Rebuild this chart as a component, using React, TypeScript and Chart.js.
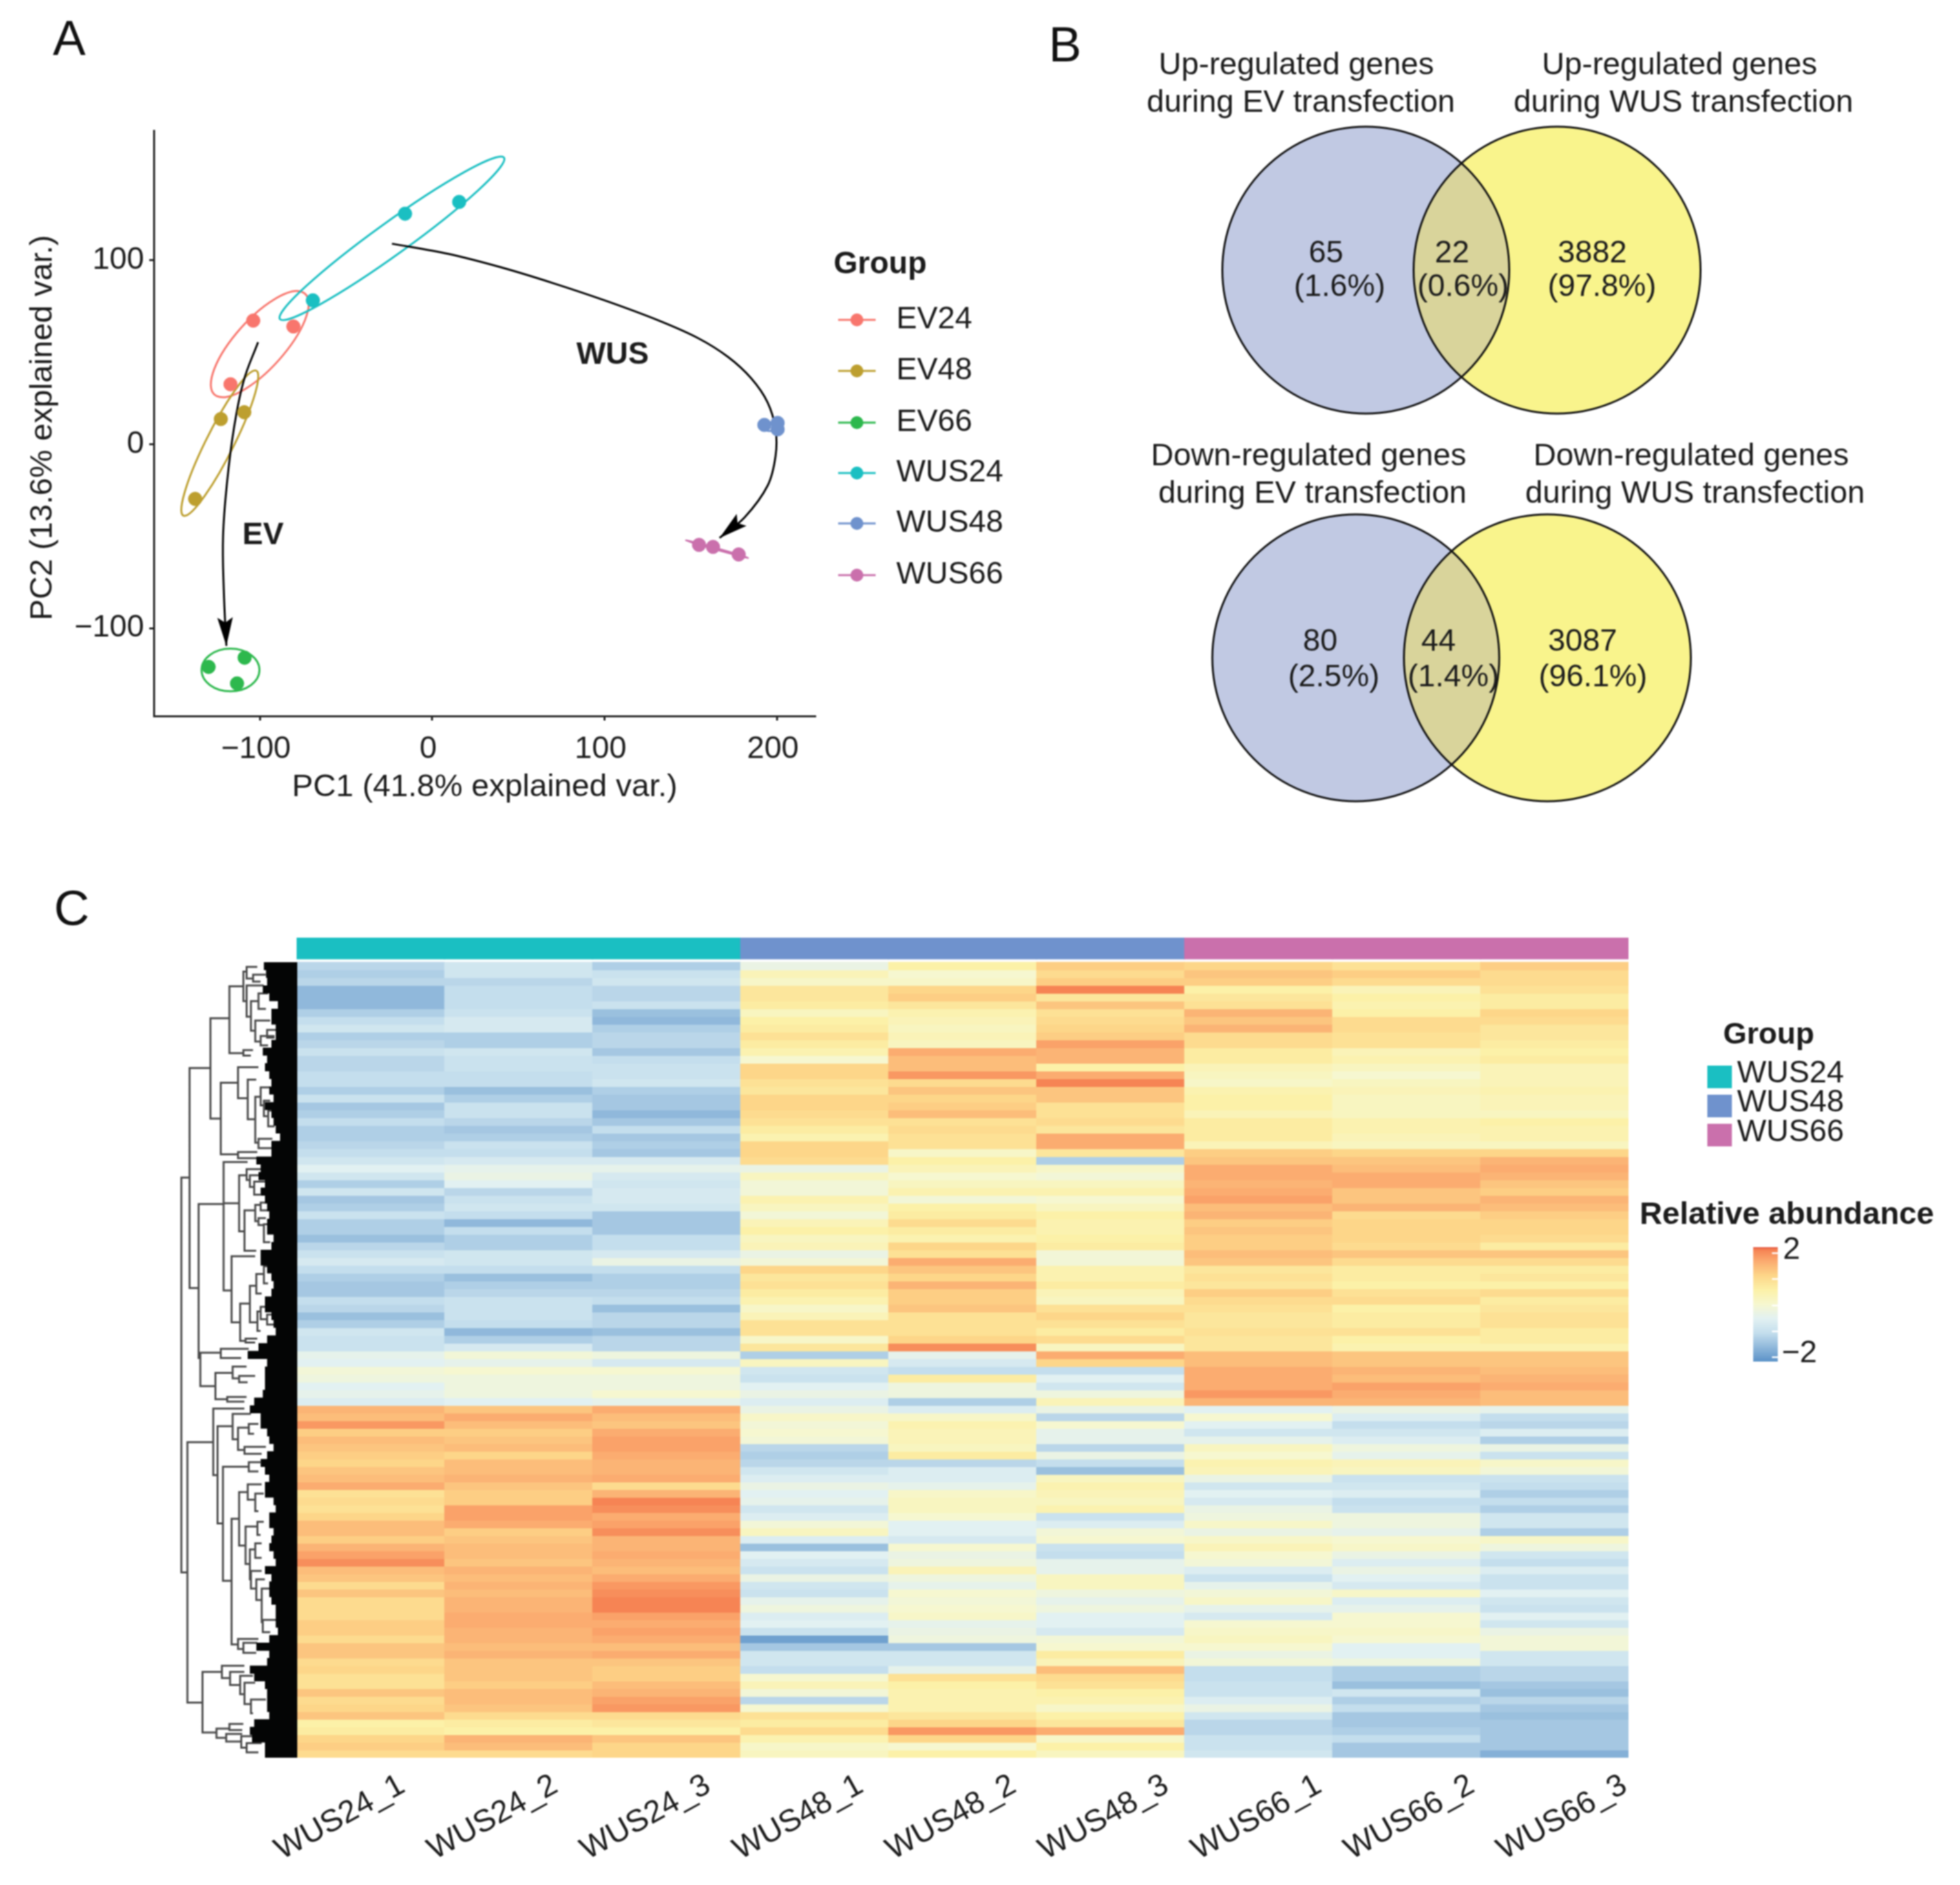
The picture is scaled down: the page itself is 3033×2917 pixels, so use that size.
import React, { useEffect, useRef } from "react";
import { Chart, registerables } from "chart.js";

Chart.register(...registerables);

const FONT = '"Liberation Sans", Arial, sans-serif';
const INK = "#1c1c1c";

/* ---------- Panel A data ---------- */
const groupNames = ["EV24", "EV48", "EV66", "WUS24", "WUS48", "WUS66"];
const groupColors = ["#f8766d", "#bd9f2f", "#2db84d", "#1abfc2", "#6f92cd", "#ca70ac"];
const pcaEV24 = [{ x: -103.8, y: 67.2 }, { x: -80.5, y: 64 }, { x: -117, y: 32.6 }];
const pcaEV48 = [{ x: -122.6, y: 13.7 }, { x: -109, y: 17.4 }, { x: -137.5, y: -29.7 }];
const pcaEV66 = [{ x: -108.8, y: -116 }, { x: -129.7, y: -121 }, { x: -113.2, y: -130 }];
const pcaWUS24 = [{ x: -15.7, y: 125.3 }, { x: 15.7, y: 131.7 }, { x: -69.2, y: 78.2 }];
const pcaWUS48 = [{ x: 192.8, y: 10.5 }, { x: 200.5, y: 11.6 }, { x: 200.5, y: 8.1 }];
const pcaWUS66 = [{ x: 154.9, y: -54.7 }, { x: 163, y: -55.8 }, { x: 177.9, y: -59.9 }];
const pcaGroups = [pcaEV24, pcaEV48, pcaEV66, pcaWUS24, pcaWUS48, pcaWUS66];
// centre, and two conjugate semi-axes of each confidence ellipse, in PC units
const ellipses = [
  { c: [-100, 54.4], u: [25, 28.2], v: [-13.5, 6] },
  { c: [-123.2, 0.6], u: [20.7, 39.5], v: [-8.4, 0.9] },
  { c: [-117, -122.7], u: [16.8, 0], v: [0, -11.6] },
  { c: [-23.3, 111.9], u: [65, 43.9], v: [-5.7, 7] },
  { c: [196.6, 9.6], u: [4.6, 0.6], v: [0, -2.3] },
  { c: [165.3, -57], u: [18, -4.7], v: [0, 0.4] },
];
const arrowEV = [
  { x: -101, y: 55.5 }, { x: -109.4, y: 34.3 }, { x: -115.1, y: 8.1 }, { x: -119, y: -20.9 },
  { x: -121.3, y: -50 }, { x: -120.9, y: -79 }, { x: -119.4, y: -109.6 },
];
const arrowWUS = [
  { x: -23.3, y: 109 }, { x: 9.2, y: 103.5 }, { x: 39.8, y: 96.2 }, { x: 70.4, y: 87.5 }, { x: 101, y: 77.9 },
  { x: 131.6, y: 67.2 }, { x: 154.5, y: 57.6 }, { x: 171.8, y: 47.4 }, { x: 185.2, y: 35.8 }, { x: 194.7, y: 22.7 },
  { x: 199.3, y: 8.1 }, { x: 199.3, y: -6.4 }, { x: 194.7, y: -22.5 }, { x: 181.3, y: -39.8 }, { x: 166.8, y: -50.9 },
];
const pcaTicksX = [-100, 0, 100, 200];
const pcaTicksY = [-100, 0, 100];

/* ---------- Panel B data ---------- */
const vennCounts = ["65", "22", "3882", "80", "44", "3087"];
const vennPercents = ["(1.6%)", "(0.6%)", "(97.8%)", "(2.5%)", "(1.4%)", "(96.1%)"];
const vennTitleLines = [
  "Up-regulated genes", "during EV transfection", "Up-regulated genes", "during WUS transfection",
  "Down-regulated genes", "during EV transfection", "Down-regulated genes", "during WUS transfection",
];

/* ---------- Panel C data ---------- */
const sampleNames = ["WUS24_1", "WUS24_2", "WUS24_3", "WUS48_1", "WUS48_2", "WUS48_3", "WUS66_1", "WUS66_2", "WUS66_3"];
const sampleGroupColors = ["#1abfc2", "#1abfc2", "#1abfc2", "#6f92cd", "#6f92cd", "#6f92cd", "#ca70ac", "#ca70ac", "#ca70ac"];
const heatLegendNames = ["WUS24", "WUS48", "WUS66"];
const heatLegendColors = ["#1abfc2", "#6f92cd", "#ca70ac"];

const heatWUS24_1 = [
  -1.1,-1.2,-1.1,-1.5,-1.5,-1.5,-1.2,-1.0,-.8,-1.2, -1.1,-.9,-1.1,-1.1,-1.0,-1.0,-1.2,-.9,-1.3,-1.2,
  -1.0,-1.2,-1.2,-1.1,-1.0,-.8,-.5,-.8,-1.2,-.8, -1.3,-1.2,-.9,-1.2,-1.2,-1.4,-1.1,-.9,-.7,-1.0,
  -1.2,-1.3,-1.3,-1.0,-1.1,-1.4,-1.2,-.8,-.9,-.9, -.4,-.5,-.1,-.2,-.5,-.4,-.6,
  1.4,1.3,1.7,1.1,1.3,1.2,1.1,1.0,1.2,1.3, 1.5,.8,.9,.8,1.0,1.3,1.3,1.1,1.4,1.6,
  1.8,1.3,1.2,.9,1.2,.9,.9,.9,1.1,1.1, .9,1.2,1.2,.9,1.0,.8,.8,1.2,.9,1.0, 1.2,.5,.6,1.0,1.1,.9,
];
const heatWUS24_2 = [
  -.8,-.8,-1.1,-1.0,-1.0,-1.0,-.9,-.7,-.7,-1.2, -1.2,-.8,-.9,-.9,-1.0,-1.0,-1.4,-1.2,-.9,-.9,
  -1.1,-1.3,-1.2,-.9,-1.0,-.7,-.4,-.3,-.5,-1.1, -.9,-.8,-1.0,-1.5,-1.0,-1.2,-1.2,-.8,-.8,-1.0,
  -1.4,-1.2,-1.1,-.9,-.9,-.9,-1.0,-1.5,-1.2,-.7, -.1,-.4,0,-.2,-.2,-.2,-.5,
  1.2,1.5,1.3,1.1,1.2,1.3,1.0,1.3,1.3,1.4, 1.2,1.1,1.1,1.6,1.6,1.5,1.1,1.2,1.3,1.3,
  1.2,1.4,1.3,1.4,1.3,1.4,1.4,1.5,1.5,1.4, 1.4,1.3,1.4,1.2,1.2,1.2,1.1,1.3,1.3,1.2, .9,.6,.5,1.4,1.3,.9,
];
const heatWUS24_3 = [
  -1.2,-.9,-.8,-1.1,-1.1,-.9,-1.4,-1.5,-1.2,-1.1, -1.1,-1.3,-1.0,-.9,-.9,-.8,-1.2,-1.3,-1.3,-1.5,
  -1.3,-1.0,-1.3,-1.2,-1.3,-.7,-.4,-.7,-.8,-.7, -.7,-.8,-1.3,-1.3,-1.3,-1.0,-1.0,-.7,-.3,-1.0,
  -1.2,-1.2,-1.1,-1.0,-1.4,-1.1,-1.1,-1.4,-1.1,-1.1, -.2,-.7,0,-.2,-.2,0,-.4,
  1.5,1.3,1.2,1.5,1.6,1.6,1.5,1.4,1.4,1.5, .9,1.4,1.9,1.8,1.5,1.6,1.8,1.4,1.4,1.5,
  1.4,1.3,1.5,1.7,1.8,1.9,1.9,1.6,1.5,1.6, 1.5,1.3,1.5,1.2,1.1,1.1,1.3,1.4,1.6,1.7, .9,.7,.5,1.2,1.0,1.0,
];
const heatWUS48_1 = [
  -.3,.3,.1,.7,.7,.6,.2,.5,.6,.8, .6,.4,0,1.0,1.0,.8,.7,1.0,1.0,.9, .8,.6,.4,1.0,1.0,.9,-.3,.2,-.1,
  -.1,.4,.2,-.1,.3,.5,.2,.3,-.3,-.1, 1.0,.7,.8,.6,.4,.1,.3,.8,.8,.1, .7,-1.2,.2,-.8,-.9,-.5,-.3,-.6,
  -.3,.1,-.1,0,-.1,-1.1,-1.2,-1.1,-.8,-.6, -.3,-.5,-.4,-.8,-.6,-.1,.2,-.6,-1.4,-.5, -.7,-.9,-.3,
  -.8,-.9,-.4,-.2,-.6,-.5,-.9,-1.8,-1.3,-.8, -.8,-1.0,0,.3,-.1,-1.1,0,.8,.6,.9, .4,.1,.2,
];
const heatWUS48_2 = [
  .5,0,.1,1.0,1.1,.7,.4,.3,.2,.3, .2,1.5,1.3,1.3,1.7,.9,1.2,1.0,1.1,1.3, .8,.9,.8,.8,.1,.5,.3,0,.2,
  .4,-.1,.5,.6,.9,.6,.4,1.0,.8,1.5, 1.2,1.0,1.4,1.1,1.1,1.2,.8,.8,.8,1.0, 1.8,-.4,-.7,-1.0,.6,-.2,-.2,-1.2,
  -.6,.1,.4,.3,.3,.2,.6,-1.1,-.6,-.6, -.4,.1,.2,.2,0,-.5,-.5,-.7,0,-.3, -.2,.3,-.2,
  -.4,0,-.1,0,.1,-.4,-.3,-.2,-1.3,-.8, -.8,-.4,.8,.5,.4,.4,.4,.7,1.0,1.7, 1.0,0,.5,
];
const heatWUS48_3 = [
  1.1,.9,1.1,1.9,.7,1.2,.8,.9,1.0,1.1, 1.6,1.4,1.4,.5,1.5,1.9,1.2,1.2,.8,.8, .9,.7,1.5,1.5,.7,-1.2,.1,-.1,.2,
  .4,0,.2,.5,.4,.4,.5,.6,-.1,-.1, .4,.4,.6,.3,.2,.8,1.0,.8,.6,.9, .2,1.5,1.0,-1.0,-.5,-.8,-.2,.3,
  -.3,-1.1,0,-.4,-.4,-1.1,-.3,-1.0,-1.4,.2, .4,.3,.2,.4,-.9,-.6,-.1,0,-.9,-1.0, -.4,-.4,.2,
  .2,-.2,-.4,-.2,-.5,-.5,-.7,-.1,0,.6, .3,1.3,.9,.8,.5,.4,.1,.5,.7,1.5, .1,.5,.2,
];
const heatWUS66_1 = [
  1.0,1.2,1.1,.5,.7,.8,1.4,1.2,1.4,.9, .9,.6,.6,.3,.2,.1,.4,.5,.5,.3, .6,.6,.6,.3,1.1,1.2,1.5,1.5,1.4,
  1.5,1.6,1.3,1.4,1.1,1.2,1.1,1.1,1.3,1.2, .7,.8,.7,1.1,.9,.8,.7,.7,.8,.7, .7,1.3,1.3,1.5,1.5,1.5,1.7,1.4,
  -.5,0,-.5,-.8,-.4,.2,0,.4,.3,-.3, -.8,-.5,-.7,-.3,-.2,.1,-.3,.1,.3,0, -.1,-.6,-.9,
  -.4,-.1,.1,-.4,-.7,0,.1,.2,0,-.3, -.1,-1.0,-1.0,-.9,-.9,-.6,-.3,-.8,-1.1,-1.1, -.9,-.9,-.8,
];
const heatWUS66_2 = [
  .8,1.1,.9,.3,.5,.4,.5,.9,.9,.8, .8,.3,.4,.2,0,.2,.3,.2,.2,.2, .4,.4,.3,.2,1.0,1.2,1.3,1.5,1.5,
  1.2,1.2,1.4,.9,1.0,1.0,1.0,.9,1.2,.9, .6,.6,.5,.8,.9,.5,.6,.6,.8,.5, .4,1.2,1.2,1.4,1.3,1.6,1.5,1.4,
  -.3,-.6,-1.0,-.8,-.6,-.2,-.4,.3,.2,-.9, -.8,-.6,-1.0,-.9,-.2,-.2,-.4,0,.1,-.3, -.6,-.3,-.5,
  -.7,.1,-.6,-.4,0,0,.1,0,-.5,-.5, -.2,-1.2,-1.2,-1.4,-.8,-1.2,-1.0,-1.3,-1.3,-1.2, -1.0,-1.3,-1.3,
];
const heatWUS66_3 = [
  1.1,.9,.9,.8,.6,.6,1.0,.9,.7,.7, .6,.5,.6,.3,.3,.3,.4,.3,.3,.2, .5,.4,.4,.2,1.0,1.4,1.5,1.4,1.2,
  1.1,1.4,1.3,1.1,1.0,1.0,.9,.6,1.2,.9, .6,.7,.5,.9,.6,.7,.8,.8,.6,.6, .4,1.2,1.2,1.3,1.4,1.5,1.3,1.3,
  -.4,-1.0,-1.1,-.6,-1.2,-.3,-.9,.1,-.1,-.9, -1.0,-1.2,-1.0,-1.2,-.8,-.8,-1.2,.1,-.2,-.8, -1.0,-.6,-.9,
  -.9,-.5,-.8,-.9,-.5,-.8,-.3,-.1,-.1,-.8, -.8,-1.1,-1.1,-1.3,-1.4,-1.1,-1.3,-1.4,-1.3,-1.3, -1.3,-1.3,-1.6,
];
const heatColumns = [heatWUS24_1, heatWUS24_2, heatWUS24_3, heatWUS48_1, heatWUS48_2, heatWUS48_3, heatWUS66_1, heatWUS66_2, heatWUS66_3];
const ROWS = 103;
const UPPER_ROWS = 57;

// leftmost reach of the leaf fringe per row
const leafEdge = [
  415,425,430,410,440,480,450,450,470,470,450,410,430,420,440,450,440,460,420,450,460,470,490,450,450,380,400,390,420,400,
  420,430,440,430,430,460,450,400,400,430,450,460,450,420,420,450,460,470,430,390,340,
  430,420,420,420,410,370,350,400,400,430,440,460,430,400,420,440,420,420,460,470,440,440,460,450,440,460,470,420,450,440,
  440,450,470,470,470,480,440,380,440,430,350,370,420,430,430,430,440,370,350,360,420,420,
];
// [parent height, top row, bottom row, top child height, bottom child height]
const brackets = [
  [32,27.7,78.8,70,58],[70,13.6,41.9,167,112],[167,7.2,20.1,255,215],[255,3.1,11.7,320,320],[320,1.2,5,335,335],
  [335,.6,2.1,380,365],[365,1.6,2.5,420,395],[335,3,7,410,355],[390,4,6,430,420],[355,5,8.8,390,375],
  [375,7.5,10.2,440,400],[400,9.5,10.7,460,430],[430,8.7,9.7,480,460],[320,11.3,12,360,350],[215,15.5,24.7,295,295],
  [295,13.5,17.5,385,340],[340,15.1,20.2,375,375],[375,17.3,23.2,400,390],[400,16.1,18.4,440,415],[415,17.8,19.8,440,435],
  [435,19.1,21.1,470,460],[390,22.7,23.9,450,450],[295,24.4,25.2,380,380],[112,31.1,50.9,228,120],[120,50.2,54.5,215,190],
  [228,25.7,42.2,335,265],[228,31,31,300,228],[300,27.4,34.6,335,325],[335,26.6,28,420,350],[350,27.4,28.9,430,370],
  [370,28.2,29.9,440,395],[325,31.9,37.1,375,375],[375,31.2,33.3,400,390],[400,30.9,31.9,450,440],[390,32.9,33.8,420,415],
  [415,33.7,36,460,440],[265,37.8,46.3,370,305],[305,43.9,48.7,350,330],[350,41.6,46.3,380,385],[380,40.1,42.6,415,400],
  [415,39.1,41.3,450,430],[385,44.9,47.4,400,395],[400,44.3,45.9,440,430],[430,45.3,46.6,470,460],[330,48.4,48.9,380,370],
  [215,49.7,50.9,340,305],[190,52.8,56.2,270,245],[270,52,53.5,330,300],[300,53.2,54,370,335],[245,55.9,56.5,330,320],
  [60,61.8,95.8,180,130],[180,57.4,66.1,320,195],[200,59.7,72.4,270,225],[270,58.1,61.4,350,295],[295,59.9,62.8,345,325],
  [345,59.4,60.7,385,365],[325,62.4,63.3,420,400],[225,65,79.9,345,265],[345,64.4,65.6,395,385],[265,71.8,88.2,300,295],
  [300,68.3,75.3,340,330],[340,67.3,69.3,400,375],[375,68.5,70.8,410,385],[330,72.8,77.7,385,350],[385,72.2,73.9,410,395],
  [350,75.8,79.7,375,355],[375,75,76.9,400,400],[355,78.6,80.9,400,380],[380,79.7,82.4,415,405],[405,80.9,85.3,440,410],
  [410,85,86.6,470,440],[295,87.5,88.8,385,320],[320,88,89.3,380,375],[130,91.8,99.7,220,195],[220,91,92.6,320,258],
  [258,91.8,93.5,320,305],[305,92.3,94.7,360,325],[325,93.2,96,370,355],[355,95.4,97.2,420,360],[195,99.2,100.4,255,240],
  [255,98.6,99.4,315,310],[240,99.9,100.9,310,310],[310,100.2,101.7,385,335],[335,101.1,102.3,400,385],
];

// The upper (blue) and lower (orange) blocks have slightly different row pitch
const UPPER_H = 686;
const LOWER_H = 545;
const rowEdge = (r: number) =>
  r <= UPPER_ROWS ? (r * UPPER_H) / UPPER_ROWS : UPPER_H + ((r - UPPER_ROWS) * LOWER_H) / (ROWS - UPPER_ROWS);

/* ---------- colour scale of the heatmap ---------- */
const heatStops: [number, number[]][] = [
  [-2, [91, 146, 200]], [-1, [196, 222, 237]], [-0.5, [226, 241, 242]], [0, [246, 247, 208]],
  [0.5, [252, 241, 168]], [1, [253, 214, 137]], [1.5, [251, 172, 112]], [1.9, [246, 132, 84]], [2, [228, 85, 63]],
];
function heatColor(v: number) {
  for (let i = 1; i < heatStops.length; i++) {
    const [b, cb] = heatStops[i];
    const [a, ca] = heatStops[i - 1];
    if (v <= b) {
      const t = Math.max(0, (v - a) / (b - a));
      return `rgb(${ca.map((c, k) => Math.round(c + (cb[k] - c) * t)).join(",")})`;
    }
  }
  return "rgb(228,85,63)";
}

function put(ctx: any, text: string, x: number, y: number, font: string, align: any = "center", color = INK) {
  ctx.save();
  ctx.font = font;
  ctx.textAlign = align;
  ctx.textBaseline = "middle";
  ctx.fillStyle = color;
  ctx.fillText(text, x, y);
  ctx.restore();
}
const reg = (px: number) => `${px}px ${FONT}`;
const bold = (px: number) => `bold ${px}px ${FONT}`;

const arrowHead = (ctx: any, pts: any[], color: string) => {
  const a = pts[pts.length - 2];
  const b = pts[pts.length - 1];
  const ang = Math.atan2(b.y - a.y, b.x - a.x);
  ctx.save();
  ctx.translate(b.x, b.y);
  ctx.rotate(ang);
  ctx.fillStyle = color;
  ctx.beginPath();
  ctx.moveTo(0, 0);
  ctx.lineTo(-44, -12);
  ctx.lineTo(-36, 0);
  ctx.lineTo(-44, 12);
  ctx.closePath();
  ctx.fill();
  ctx.restore();
};

function makePanelA(canvas: HTMLCanvasElement) {
  const panelPlugin = {
    id: "panelA",
    beforeDatasetsDraw(chart: any) {
      const { ctx, scales: { x, y } } = chart;
      ctx.save();
      ellipses.forEach((e, i) => {
        const cx = x.getPixelForValue(e.c[0]);
        const cy = y.getPixelForValue(e.c[1]);
        const ux = x.getPixelForValue(e.c[0] + e.u[0]) - cx;
        const uy = y.getPixelForValue(e.c[1] + e.u[1]) - cy;
        const vx = x.getPixelForValue(e.c[0] + e.v[0]) - cx;
        const vy = y.getPixelForValue(e.c[1] + e.v[1]) - cy;
        ctx.save();
        ctx.transform(ux, uy, vx, vy, cx, cy);
        ctx.beginPath();
        ctx.arc(0, 0, 1, 0, Math.PI * 2);
        ctx.restore();
        ctx.lineWidth = 3;
        ctx.strokeStyle = groupColors[i];
        ctx.stroke();
      });
      ctx.restore();
    },
    afterDatasetsDraw(chart: any) {
      const { ctx, scales: { x, y } } = chart;
      [arrowEV, arrowWUS].forEach((arr) => {
        const pts = arr.slice(-2).map((p) => ({ x: x.getPixelForValue(p.x), y: y.getPixelForValue(p.y) }));
        arrowHead(ctx, pts, "#000");
      });
      put(ctx, "A", 107, 64, reg(76), "center", "#111");
      put(ctx, "EV", 407, 829, bold(48));
      put(ctx, "WUS", 948, 550, bold(48));
      put(ctx, "Group", 1290, 410, bold(48), "left");
      const rows = [495, 574, 654, 732, 810, 890];
      groupNames.forEach((name, i) => {
        ctx.save();
        ctx.strokeStyle = groupColors[i];
        ctx.lineWidth = 3;
        ctx.beginPath();
        ctx.moveTo(1297, rows[i]);
        ctx.lineTo(1355, rows[i]);
        ctx.stroke();
        ctx.fillStyle = groupColors[i];
        ctx.beginPath();
        ctx.arc(1326, rows[i], 10, 0, Math.PI * 2);
        ctx.fill();
        ctx.restore();
        put(ctx, name, 1387, rows[i], reg(48), "left");
      });
    },
  };
  return new Chart(canvas, {
    type: "scatter",
    data: {
      datasets: [
        ...pcaGroups.map((pts, i) => ({
          label: groupNames[i], data: pts, showLine: false, pointRadius: 10.5,
          backgroundColor: groupColors[i], borderColor: groupColors[i],
        })),
        { label: "EV", data: arrowEV, showLine: true, tension: 0.4, pointRadius: 0, borderColor: "#000", borderWidth: 3 },
        { label: "WUS", data: arrowWUS, showLine: true, tension: 0.35, pointRadius: 0, borderColor: "#000", borderWidth: 3 },
      ],
    },
    options: {
      responsive: false, animation: false, devicePixelRatio: 1,
      layout: { padding: { top: 202, right: 338, bottom: 0, left: 0 }, autoPadding: false },
      plugins: { legend: { display: false }, tooltip: { enabled: false } },
      scales: {
        x: {
          type: "linear", min: -161.5, max: 222.5,
          afterFit: (s: any) => { s.height = 192; },
          afterBuildTicks: (s: any) => { s.ticks = pcaTicksX.map((value) => ({ value })); },
          border: { color: "#222", width: 3 },
          grid: { drawOnChartArea: false, tickLength: 7, tickWidth: 3, tickColor: "#222" },
          ticks: {
            color: INK, font: { family: FONT, size: 48 }, padding: 16, maxRotation: 0, labelOffset: -6,
            callback: (v: any) => String(v).replace("-", "\u2212"),
          },
          title: { display: true, text: "PC1 (41.8% explained var.)", color: INK, font: { family: FONT, size: 49 }, padding: { top: 0, bottom: 52 } },
        },
        y: {
          type: "linear", min: -147.7, max: 170.5,
          afterFit: (s: any) => { s.width = 238; },
          afterBuildTicks: (s: any) => { s.ticks = pcaTicksY.map((value) => ({ value })); },
          border: { color: "#222", width: 3 },
          grid: { drawOnChartArea: false, tickLength: 7, tickWidth: 3, tickColor: "#222" },
          ticks: {
            color: INK, font: { family: FONT, size: 48 }, padding: 8,
            callback: (v: any) => String(v).replace("-", "\u2212"),
          },
          title: { display: true, text: "PC2 (13.6% explained var.) ", color: INK, font: { family: FONT, size: 49 }, padding: { top: 37, bottom: 0 } },
        },
      },
    },
    plugins: [panelPlugin],
  } as any);
}

function makePanelB(canvas: HTMLCanvasElement) {
  const R = 222;
  const venn = [
    { a: { x: 2113.5, y: 418 }, b: { x: 2409.5, y: 418 } },
    { a: { x: 2098, y: 1018 }, b: { x: 2394.5, y: 1018 } },
  ];
  const titlePos = [[2006, 101.5], [2013, 159.5], [2599, 101.5], [2605, 159.5], [2025, 707], [2031, 765], [2617, 707], [2623, 765]];
  const countPos = [[2052, 393], [2247, 393], [2464, 393], [2043, 994], [2226, 994], [2449, 994]];
  const pctPos = [[2073, 445], [2264, 445], [2479, 445], [2064, 1049], [2249, 1049], [2465, 1049]];
  const plugin = {
    id: "venn",
    afterDatasetsDraw(chart: any) {
      const { ctx, scales: { x, y } } = chart;
      venn.forEach(({ a, b }) => {
        const ax = x.getPixelForValue(a.x), ay = y.getPixelForValue(a.y);
        const bx = x.getPixelForValue(b.x), by = y.getPixelForValue(b.y);
        ctx.save();
        ctx.beginPath();
        ctx.arc(ax, ay, R, 0, Math.PI * 2);
        ctx.clip();
        ctx.fillStyle = "#d9d49b";
        ctx.beginPath();
        ctx.arc(bx, by, R, 0, Math.PI * 2);
        ctx.fill();
        ctx.restore();
        ctx.save();
        ctx.strokeStyle = "#111";
        ctx.lineWidth = 3;
        [[ax, ay], [bx, by]].forEach(([px, py]) => {
          ctx.beginPath();
          ctx.arc(px, py, R, 0, Math.PI * 2);
          ctx.stroke();
        });
        ctx.restore();
      });
      const X = (v: number) => x.getPixelForValue(v);
      const Y = (v: number) => y.getPixelForValue(v);
      put(ctx, "B", X(1648), Y(74), reg(76), "center", "#111");
      vennTitleLines.forEach((t, i) => put(ctx, t, X(titlePos[i][0]), Y(titlePos[i][1]), reg(48.5)));
      vennCounts.forEach((t, i) => put(ctx, t, X(countPos[i][0]), Y(countPos[i][1]), reg(48)));
      vennPercents.forEach((t, i) => put(ctx, t, X(pctPos[i][0]), Y(pctPos[i][1]), reg(48)));
    },
  };
  return new Chart(canvas, {
    type: "scatter",
    data: {
      datasets: [
        { label: "EV", data: venn.map((v) => v.a), pointRadius: R, backgroundColor: "#c1c9e3", borderWidth: 0, order: 2, clip: false },
        { label: "WUS", data: venn.map((v) => v.b), pointRadius: R, backgroundColor: "#f9f48c", borderWidth: 0, order: 1, clip: false },
      ],
    },
    options: {
      responsive: false, animation: false, devicePixelRatio: 1,
      layout: { padding: 0, autoPadding: false },
      plugins: { legend: { display: false }, tooltip: { enabled: false } },
      scales: {
        x: { type: "linear", min: 1600, max: 3033, display: false },
        y: { type: "linear", min: 0, max: 1300, reverse: true, display: false },
      },
    },
    plugins: [plugin],
  } as any);
}

function makeHeatmap(canvas: HTMLCanvasElement, top: number) {
  const annotTop = -38;
  const annotBottom = -5;
  const firstLabel = 0.716;
  const labelStep = 1.0323;
  const plugin = {
    id: "heatExtras",
    afterDraw(chart: any) {
      const { ctx } = chart;
      const Y = (v: number) => v - top;
      put(ctx, "C", 111, Y(1410), reg(76), "center", "#111");
      put(ctx, "Group", 2737, Y(1602), bold(47));
      const sq = [1649, 1694, 1739];
      const tx = [1662, 1707, 1753];
      heatLegendNames.forEach((n, i) => {
        ctx.fillStyle = heatLegendColors[i];
        ctx.fillRect(2642, Y(sq[i]), 38, 35);
        put(ctx, n, 2688, Y(tx[i]), reg(48), "left");
      });
      put(ctx, "Relative abundance", 2765, Y(1881), bold(48.5));
      const g = ctx.createLinearGradient(0, Y(1930), 0, Y(2107));
      const stops = [...heatStops].reverse();
      stops.forEach(([v, c]) => g.addColorStop((2 - v) / 4, `rgb(${c.join(",")})`));
      ctx.fillStyle = g;
      ctx.fillRect(2713, Y(1930), 38, 177);
      ctx.fillStyle = "#fff";
      [1939, 1979, 2020, 2060, 2100].forEach((ty) => {
        ctx.fillRect(2742, Y(ty) - 1, 9, 2.5);
      });
      put(ctx, "2", 2759, Y(1935), reg(48), "left");
      put(ctx, "\u22122", 2757, Y(2095), reg(48), "left");
    },
  };
  const rowDatasets = Array.from({ length: ROWS }, (_, r) => ({
    label: `row ${r + 1}`,
    xAxisID: "x",
    data: sampleNames.map(() => [rowEdge(r), rowEdge(r + 1)]),
    backgroundColor: heatColumns.map((col) => heatColor(col[r])),
    borderWidth: 0, grouped: false, barPercentage: 1, categoryPercentage: 1, inflateAmount: 0.5,
  }));
  return new Chart(canvas, {
    type: "bar",
    data: {
      labels: sampleNames,
      datasets: [
        {
          label: "Group", xAxisID: "x", data: sampleNames.map(() => [annotTop, annotBottom]),
          backgroundColor: sampleGroupColors, borderWidth: 0, grouped: false, barPercentage: 1, categoryPercentage: 1, inflateAmount: 0.5,
        },
        ...rowDatasets,
      ],
    },
    options: {
      responsive: false, animation: false, devicePixelRatio: 1,
      layout: { padding: { left: 459, right: 513, top: 1451 - top, bottom: 0 }, autoPadding: false },
      plugins: { legend: { display: false }, tooltip: { enabled: false } },
      scales: {
        x: { type: "category", display: false },
        // the sample names sit slightly wider than the columns, as in the figure
        labelAxis: {
          type: "linear", position: "bottom", min: 0, max: 9, offset: false,
          afterFit: (s: any) => { s.height = 197; },
          afterBuildTicks: (s: any) => { s.ticks = sampleNames.map((_, i) => ({ value: firstLabel + i * labelStep })); },
          border: { display: false },
          grid: { display: false, drawTicks: false },
          ticks: {
            color: INK, font: { family: FONT, size: 48.5 }, minRotation: 29, maxRotation: 29,
            autoSkip: false, padding: 14,
            callback: (_v: any, i: number) => sampleNames[i],
          },
        },
        y: { type: "linear", min: annotTop, max: UPPER_H + LOWER_H, reverse: true, display: false },
      },
    },
    plugins: [plugin],
  } as any);
}

function makeDendrogram(canvas: HTMLCanvasElement) {
  const gap = { x: NaN, y: NaN };
  const treePoints: any[] = [];
  brackets.forEach(([p, t, b, ct, cb]) => {
    const yt = rowEdge(t), yb = rowEdge(b);
    treePoints.push({ x: ct, y: yt }, { x: p, y: yt }, { x: p, y: yb }, { x: cb, y: yb }, gap);
  });
  const fringePoints: any[] = [];
  leafEdge.forEach((edge, r) => {
    const ym = rowEdge(r + 0.5);
    fringePoints.push({ x: edge, y: ym }, { x: 570, y: ym }, gap);
  });
  return new Chart(canvas, {
    type: "scatter",
    data: {
      datasets: [
        { label: "leaves", data: fringePoints, showLine: true, spanGaps: false, pointRadius: 0, borderColor: "#040505", borderWidth: 12.4, borderCapStyle: "butt", clip: false },
        { label: "tree", data: treePoints, showLine: true, spanGaps: false, pointRadius: 0, borderColor: "#4a4a4a", borderWidth: 3, borderCapStyle: "square", clip: false },
      ],
    },
    options: {
      responsive: false, animation: false, devicePixelRatio: 1,
      layout: { padding: 0, autoPadding: false },
      plugins: { legend: { display: false }, tooltip: { enabled: false } },
      scales: {
        x: { type: "linear", min: 0, max: 570, display: false },
        y: { type: "linear", min: 0, max: UPPER_H + LOWER_H, reverse: true, display: false },
      },
    },
  } as any);
}

export default function App() {
  const aRef = useRef<HTMLCanvasElement>(null);
  const bRef = useRef<HTMLCanvasElement>(null);
  const cRef = useRef<HTMLCanvasElement>(null);
  const dRef = useRef<HTMLCanvasElement>(null);
  useEffect(() => {
    const charts = [
      makePanelA(aRef.current!),
      makePanelB(bRef.current!),
      makeHeatmap(cRef.current!, 1340),
      makeDendrogram(dRef.current!),
    ];
    return () => charts.forEach((c) => c.destroy());
  }, []);
  const abs = (left: number, top: number): React.CSSProperties => ({ position: "absolute", left, top, display: "block" });
  return (
    <div style={{ position: "absolute", left: 0, top: 0, width: 3033, height: 2917, background: "#fff", overflow: "hidden", filter: "blur(0.8px)" }}>
      <canvas ref={aRef} width={1600} height={1300} style={abs(0, 0)} />
      <canvas ref={bRef} width={1433} height={1300} style={abs(1600, 0)} />
      <canvas ref={cRef} width={3033} height={1577} style={abs(0, 1340)} />
      <canvas ref={dRef} width={190} height={1231} style={abs(270, 1489)} />
    </div>
  );
}
